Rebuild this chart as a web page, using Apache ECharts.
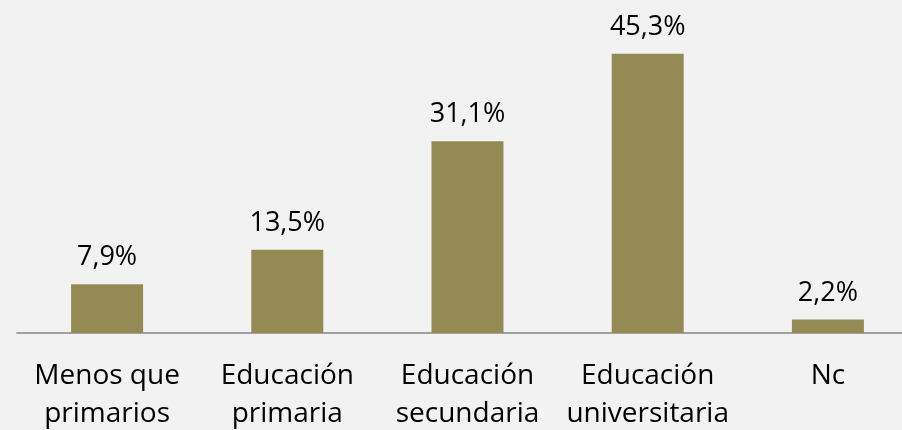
<!DOCTYPE html>
<html>
<head>
<meta charset="utf-8">
<script src="https://cdn.jsdelivr.net/npm/echarts@6/dist/echarts.min.js"></script>
<style>
  html, body { margin: 0; padding: 0; background: #f2f2f2; }
  #chart { width: 902px; height: 430px; }
</style>
</head>
<body>
<div id="chart"></div>
<script>
const categories = ['Menos que\nprimarios', 'Educación\nprimaria', 'Educación\nsecundaria', 'Educación\nuniversitaria', 'Nc']
const values = [7.9, 13.5, 31.1, 45.3, 2.2]

const chart = echarts.init(document.getElementById('chart'))

const option = {
  backgroundColor: '#f2f2f2',
  animation: false,
  grid: { left: 17, top: 0, width: 901, bottom: 97, containLabel: false, outerBoundsMode: 'none' },
  xAxis: {
    type: 'category',
    data: categories,
    axisLine: { lineStyle: { color: '#a0a0a0', width: 2 } },
    axisTick: { show: false },
    axisLabel: {
      color: '#000',
      fontFamily: 'Open Sans',
      fontSize: 28,
      lineHeight: 38,
      margin: 24,
      interval: 0
    }
  },
  yAxis: {
    type: 'value',
    min: 0,
    max: 54,
    show: false,
    splitLine: { show: false }
  },
  series: [
    {
      type: 'bar',
      data: values,
      barWidth: 72,
      itemStyle: { color: '#948a54' },
      label: {
        show: true,
        position: 'top',
        distance: 13,
        color: '#000',
        fontFamily: 'Open Sans',
        fontSize: 27,
        formatter: p => p.value.toFixed(1).replace('.', ',') + '%'
      }
    }
  ]
}

chart.setOption(option)
</script>
</body>
</html>
